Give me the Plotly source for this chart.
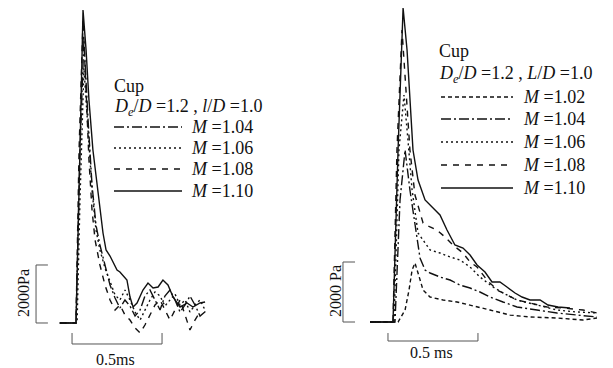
import plotly.graph_objects as go

# ---------------- data (time in ms, pressure in Pa) ----------------
# Left panel: M = 1.04, 1.06, 1.08, 1.10
left_labels = ["M =1.04", "M =1.06", "M =1.08", "M =1.10"]

L104_t = [-0.09, 0.0, 0.022, 0.044, 0.067, 0.089, 0.111, 0.133, 0.161, 0.189, 0.217, 0.244, 0.272, 0.300, 0.328,
          0.356, 0.383, 0.411, 0.439, 0.467, 0.494, 0.522, 0.550, 0.578, 0.606, 0.633, 0.661, 0.689, 0.728]
L104_p = [0, 0, 5965, 9758, 7000, 4758, 3379, 2689, 2000, 1310, 862, 517, 793, 586, 241,
          448, 931, 1138, 793, 448, 931, 1138, 793, 379, 621, 931, 621, 241, 448]

L106_t = [-0.09, 0.006, 0.022, 0.044, 0.067, 0.089, 0.111, 0.133, 0.161, 0.189, 0.217, 0.244, 0.272, 0.300, 0.328,
          0.356, 0.383, 0.411, 0.439, 0.467, 0.494, 0.522, 0.550, 0.578, 0.606, 0.633, 0.661, 0.689, 0.717]
L106_p = [0, 0, 4241, 8793, 6655, 4586, 3207, 2517, 1896, 1414, 965, 793, 1138, 793, 379,
          103, 448, 793, 1069, 931, 586, 793, 1000, 621, 793, 379, 621, 793, 448]

L108_t = [-0.09, 0.0, 0.017, 0.039, 0.056, 0.072, 0.089, 0.106, 0.133, 0.161, 0.189, 0.217, 0.244, 0.272, 0.300,
          0.328, 0.356, 0.383, 0.411, 0.439, 0.467, 0.494, 0.522, 0.550, 0.578, 0.606, 0.633, 0.661, 0.689]
L108_p = [0, 0, 5965, 10448, 8034, 5620, 3896, 2862, 2000, 1310, 793, 448, 621, 276, 103,
          -172, -345, -69, 276, 621, 793, 448, 103, 448, 793, 276, -241, 103, 379]

L110_t = [-0.09, 0.0, 0.022, 0.039, 0.056, 0.072, 0.094, 0.128, 0.150, 0.167, 0.189, 0.228, 0.244, 0.283, 0.300,
          0.317, 0.339, 0.372, 0.400, 0.428, 0.456, 0.483, 0.511, 0.539, 0.578, 0.617, 0.650, 0.689, 0.717]
L110_p = [0, 0, 5965, 10792, 9413, 7689, 5965, 4241, 3103, 2517, 2310, 1827, 1758, 1483, 896,
          552, 690, 1138, 1379, 1207, 1241, 1483, 1310, 896, 552, 690, 552, 690, 724]

# Right panel: M = 1.02, 1.04, 1.06, 1.08, 1.10
right_labels = ["M =1.02", "M =1.04", "M =1.06", "M =1.08", "M =1.10"]

R102_t = [-0.128, 0.028, 0.067, 0.089, 0.106, 0.122, 0.139, 0.167, 0.206, 0.278, 0.356, 0.428, 0.539, 0.650,
          0.761, 0.911, 1.056, 1.133]
R102_p = [0, 0, 400, 1067, 1733, 1967, 1633, 1067, 833, 733, 667, 567, 400, 233, 167, 133, 67, 133]

R104_t = [-0.128, 0.011, 0.039, 0.067, 0.094, 0.122, 0.150, 0.178, 0.206, 0.261, 0.317, 0.372, 0.428, 0.483,
          0.539, 0.611, 0.689, 0.800, 0.911, 1.022, 1.133]
R104_p = [0, 0, 4067, 5733, 4400, 3233, 2133, 1733, 1633, 1500, 1400, 1233, 1133, 1000,
          833, 667, 500, 400, 300, 233, 167]

R106_t = [-0.128, 0.006, 0.033, 0.061, 0.083, 0.106, 0.139, 0.167, 0.206, 0.261, 0.317, 0.372, 0.428, 0.483,
          0.556, 0.611, 0.689, 0.800, 0.911, 1.022, 1.133]
R106_p = [0, 0, 5733, 7567, 6067, 4400, 2967, 2733, 2400, 2300, 2167, 2067, 1833, 1500,
          1167, 967, 733, 567, 400, 333, 300]

R108_t = [-0.128, 0.0, 0.022, 0.050, 0.072, 0.094, 0.122, 0.167, 0.206, 0.244, 0.289, 0.333, 0.389, 0.428,
          0.467, 0.522, 0.578, 0.633, 0.689, 0.761, 0.856, 0.944, 1.056, 1.133]
R108_p = [0, 0, 5733, 9733, 7733, 5733, 4233, 3300, 3167, 3067, 2833, 2567, 2300, 2000,
          1833, 1400, 1067, 900, 733, 633, 500, 467, 400, 300]

R110_t = [-0.128, 0.0, 0.028, 0.056, 0.078, 0.094, 0.111, 0.139, 0.178, 0.217, 0.261, 0.300, 0.344, 0.389,
          0.428, 0.467, 0.511, 0.550, 0.594, 0.633, 0.678, 0.717, 0.761, 0.817, 0.861, 0.917, 0.983]
R110_p = [0, 0, 5733, 10467, 9067, 7400, 5733, 4733, 4067, 3833, 3567, 3067, 2567, 2467,
          2233, 1900, 1667, 1333, 1333, 1167, 967, 833, 733, 733, 567, 500, 467]

scale_p = 2000      # Pa, vertical scale bar
scale_t = 0.5       # ms, horizontal scale bar
left_title = ["Cup", "<i>D</i><sub><i>e</i></sub>/<i>D</i> =1.2 , <i>l</i>/<i>D</i> =1.0"]
right_title = ["Cup", "<i>D</i><sub><i>e</i></sub>/<i>D</i> =1.2 , <i>L</i>/<i>D</i> =1.0"]

# ---------------- styles ----------------
W, H = 613, 368
FONT = "Liberation Serif"
INK = "#111111"
DASH = {"M =1.02": "4px,3px", "M =1.04": "10px,3px,2px,3px", "M =1.06": "2px,3px",
        "M =1.08": "6px,6px", "M =1.10": "solid"}

fig = go.Figure()

left_series = [(L104_t, L104_p), (L106_t, L106_p), (L108_t, L108_p), (L110_t, L110_p)]
right_series = [(R102_t, R102_p), (R104_t, R104_p), (R106_t, R106_p), (R108_t, R108_p), (R110_t, R110_p)]

for lab, (t, p) in zip(left_labels, left_series):
    fig.add_trace(go.Scatter(x=t, y=p, mode="lines", xaxis="x", yaxis="y", showlegend=False,
                             line=dict(color=INK, width=1.4, dash=DASH[lab]), name=lab))
for lab, (t, p) in zip(right_labels, right_series):
    fig.add_trace(go.Scatter(x=t, y=p, mode="lines", xaxis="x2", yaxis="y2", showlegend=False,
                             line=dict(color=INK, width=1.4, dash=DASH[lab]), name=lab))

# scale bars (data units)
def scale_bars(xa, ya, vx, vtick, hy, htick, h0):
    bar = dict(color="#555555", width=1)
    fig.add_trace(go.Scatter(x=[vtick, vx, vx, vtick], y=[0, 0, scale_p, scale_p], mode="lines",
                             xaxis=xa, yaxis=ya, showlegend=False, line=bar, hoverinfo="skip"))
    fig.add_trace(go.Scatter(x=[h0, h0, h0 + scale_t, h0 + scale_t], y=[htick, hy, hy, htick], mode="lines",
                             xaxis=xa, yaxis=ya, showlegend=False, line=bar, hoverinfo="skip"))

scale_bars("x", "y", -0.222, -0.156, -724, -345, -0.022)
scale_bars("x2", "y2", -0.278, -0.211, -633, -367, -0.028)

# axes mapping (pixel calibrated)
fig.update_layout(
    width=W, height=H, margin=dict(l=0, r=0, t=0, b=0),
    paper_bgcolor="white", plot_bgcolor="white",
    font=dict(family=FONT, color=INK),
    xaxis=dict(domain=[0, 300 / W], range=[-0.4222, 1.2444], visible=False),
    yaxis=dict(domain=[0, 1], range=[-1552, 11138], visible=False),
    xaxis2=dict(domain=[300 / W, 1], range=[-0.5167, 1.2222], visible=False, anchor="y2"),
    yaxis2=dict(domain=[0, 1], range=[-1533, 10733], visible=False, anchor="x2"),
)

def px(x):
    return x / W

def py(y):
    return 1 - y / H

ann = []
shapes = []
fs = 18

def legend_block(titles, labels, x_text, y0, dy_title, rows_y, line_x0, line_x1, label_x):
    for i, ttl in enumerate(titles):
        ann.append(dict(text=ttl, x=px(x_text), y=py(y0 + i * dy_title), xref="paper", yref="paper",
                        xanchor="left", yanchor="middle", showarrow=False,
                        font=dict(family=FONT, size=fs, color=INK)))
    for lab, yy in zip(labels, rows_y):
        shapes.append(dict(type="line", xref="paper", yref="paper", x0=px(line_x0), x1=px(line_x1),
                           y0=py(yy), y1=py(yy), line=dict(color=INK, width=1.3, dash=DASH[lab])))
        ann.append(dict(text="<i>M</i> =" + lab.split("=")[1], x=px(label_x), y=py(yy), xref="paper", yref="paper",
                        xanchor="left", yanchor="middle", showarrow=False,
                        font=dict(family=FONT, size=fs, color=INK)))

legend_block(left_title, left_labels, 112, 86, 21, [127, 148, 169, 191], 114, 182, 189)
legend_block(right_title, right_labels, 437, 51, 23, [97, 119, 142, 165, 188], 441, 513, 521)

# scale bar labels
for txt, x, y, ang in [("2000Pa", 23, 293, -90), ("2000 Pa", 335, 291, -90),
                       ("0.5ms", 115, 359, 0), ("0.5 ms", 431, 352, 0)]:
    ann.append(dict(text=txt, x=px(x), y=py(y), xref="paper", yref="paper", xanchor="center",
                    yanchor="middle", showarrow=False, textangle=ang,
                    font=dict(family=FONT, size=16, color=INK)))

fig.update_layout(annotations=ann, shapes=shapes)
fig.write_html("out.html")
